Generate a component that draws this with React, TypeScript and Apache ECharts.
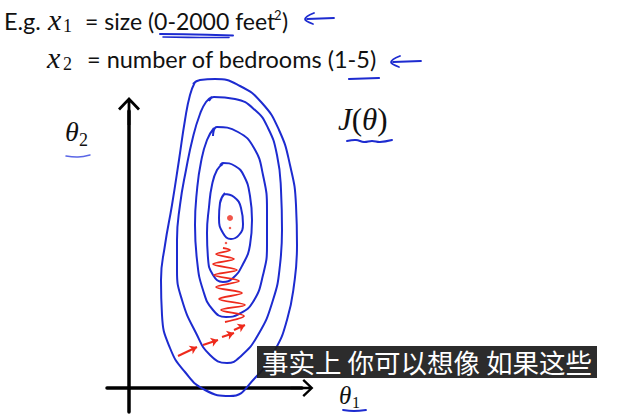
import React, { useEffect, useRef } from 'react';
import * as echarts from 'echarts';

// ---- data (theta1, theta2) ----
const contourOuter: [number, number][] = [
  [6.4, 30.4], [7.1, 30.8], [8.6, 30.9], [11.1, 30.2], [13.3, 28.5], [15.0, 25.8], [16.1, 22.3],
  [16.7, 18.3], [16.8, 14.3], [16.5, 10.3], [15.8, 6.8], [14.6, 3.8], [12.6, 1.0], [10.1, -0.8],
  [7.6, -0.2], [5.6, 1.6], [4.1, 4.0], [3.3, 7.3], [3.2, 10.8], [3.6, 14.3], [4.3, 18.3],
  [5.0, 22.8], [5.6, 26.8], [6.1, 29.3], [6.6, 30.6],
];
const contourSecond: [number, number][] = [
  [8.0, 28.7], [8.5, 29.1], [10.6, 28.9], [12.6, 27.8], [13.9, 26.0], [14.8, 23.3], [15.2, 19.8],
  [15.3, 15.8], [15.1, 12.3], [14.4, 8.8], [12.9, 5.3], [11.1, 3.1], [9.8, 2.5], [8.1, 3.3],
  [6.7, 5.5], [5.3, 8.8], [4.8, 11.8], [4.8, 14.8], [5.1, 18.3], [5.7, 21.8], [6.4, 25.1],
  [7.1, 27.4], [7.7, 28.6], [8.3, 29.1],
];
const contourThird: [number, number][] = [
  [8.4, 25.2], [8.8, 26.1], [10.9, 25.6], [12.5, 24.0], [13.4, 21.3], [13.8, 17.8], [13.8, 14.3],
  [13.4, 11.3], [12.4, 8.6], [11.0, 7.4], [9.7, 7.1], [8.4, 7.8], [7.4, 9.8], [6.8, 12.8],
  [6.6, 16.3], [6.8, 19.8], [7.2, 22.6], [7.8, 24.8], [8.5, 26.0],
];
const contourFourth: [number, number][] = [
  [9.1, 22.2], [9.4, 22.5], [10.6, 22.2], [11.5, 21.2], [12.1, 19.2], [12.3, 16.8], [12.1, 14.3],
  [11.4, 12.4], [10.4, 11.0], [9.4, 10.6], [8.4, 11.3], [7.9, 13.0], [7.8, 15.5], [8.0, 18.1],
  [8.3, 20.3], [8.8, 21.8], [9.4, 22.4],
];
const contourInner: [number, number][] = [
  [9.5, 19.4], [10.5, 19.1], [11.2, 18.0], [11.4, 16.4], [11.0, 15.3], [10.2, 14.9], [9.4, 15.5],
  [9.0, 17.0], [9.1, 18.5], [9.6, 19.5],
];
const descentSteps: [number, number][][] = [
  [[4.9, 3.2], [6.8, 4.1]],
  [[7.4, 4.3], [8.9, 4.8]],
  [[9.3, 5.1], [10.5, 5.5]],
  [[10.5, 5.8], [11.6, 6.3]],
];
const zigzagPath: [number, number][] = [
  [9.6, 6.6], [11.5, 7.2], [9.2, 7.8], [11.6, 8.3], [9.0, 8.9], [11.3, 9.5], [8.7, 10.1],
  [11.0, 10.7], [8.5, 11.3], [10.8, 11.8], [8.4, 12.4], [10.5, 12.9], [8.7, 13.4], [10.1, 13.8],
  [9.4, 14.0],
];
const minimumDots: [number, number, number][] = [
  [9.7, 14.5, 2.5], [10.1, 16.0, 2.5], [10.1, 17.0, 6],
];
const theta1Range = [-2.2, 17.3];
const theta2Range = [-2.4, 27.7];

const BLUE = '#1d2bd0';
const RED = '#ee2a1c';
const ARROW = 'path://M11,0 L22,11.5 L20,13.5 L11,4 L2,13.5 L0,11.5 Z M9.6,2 L12.4,2 L12.4,28 L9.6,28 Z';

function txt(x: number, y: number, text: string, size: number, family: string, extra: any = {}) {
  return {
    type: 'text',
    x,
    y,
    z: 50,
    style: {
      text,
      fontSize: size,
      fontFamily: family,
      fill: '#111',
      align: 'left',
      textAlign: 'left',
      verticalAlign: 'middle',
      textVerticalAlign: 'middle',
      ...extra,
    },
  };
}
function stroke(points: number[][], color = BLUE, width = 2) {
  return {
    type: 'polyline',
    z: 50,
    shape: { points, smooth: 0.4 },
    style: { stroke: color, lineWidth: width, fill: 'none', lineCap: 'round' },
  };
}

const SANS = 'Lato';
const SERIF = '"Liberation Serif"';

function buildOption() {
  const contour = (name: string, data: [number, number][]) => ({
    name,
    type: 'line',
    data,
    smooth: 0.5,
    symbol: 'none',
    clip: false,
    lineStyle: { color: BLUE, width: 2 },
    z: 3,
  });
  return {
    animation: false,
    backgroundColor: '#ffffff',
    grid: { left: 107, right: 317, top: 111, bottom: 7 },
    xAxis: {
      type: 'value',
      min: theta1Range[0],
      max: theta1Range[1],
      axisLine: {
        show: true,
        onZero: true,
        symbol: ['none', ARROW],
        symbolSize: [18, 30],
        lineStyle: { color: '#000', width: 3.5 },
      },
      axisTick: { show: false },
      axisLabel: { show: false },
      splitLine: { show: false },
    },
    yAxis: {
      type: 'value',
      min: theta2Range[0],
      max: theta2Range[1],
      axisLine: {
        show: true,
        onZero: true,
        symbol: ['none', ARROW],
        symbolSize: [22, 28],
        lineStyle: { color: '#000', width: 3.5 },
      },
      axisTick: { show: false },
      axisLabel: { show: false },
      splitLine: { show: false },
    },
    series: [
      contour('J = c1', contourOuter),
      contour('J = c2', contourSecond),
      contour('J = c3', contourThird),
      contour('J = c4', contourFourth),
      contour('J = c5', contourInner),
      {
        name: 'descent zigzag',
        type: 'line',
        data: zigzagPath,
        smooth: 0.35,
        symbol: 'none',
        clip: false,
        lineStyle: { color: RED, width: 1.8 },
        z: 4,
      },
      {
        name: 'descent steps',
        type: 'lines',
        coordinateSystem: 'cartesian2d',
        symbol: ['none', 'arrow'],
        symbolSize: 7,
        lineStyle: { color: RED, width: 2, opacity: 1, curveness: 0 },
        data: descentSteps.map((s) => ({ coords: s })),
        z: 4,
      },
      {
        name: 'minimum',
        type: 'scatter',
        data: minimumDots.map((d) => [d[0], d[1]]),
        symbolSize: (_v: any, p: any) => minimumDots[p.dataIndex][2],
        itemStyle: { color: RED },
        z: 5,
      },
    ],
    graphic: [
      // line 1
      txt(4, 21, 'E.g.', 23.5, SANS),
      txt(48, 19.5, 'x', 30, SERIF, { fontStyle: 'italic' }),
      txt(63, 26, '1', 18, SERIF),
      txt(85, 21, '= size (0-2000 feet', 23, SANS),
      txt(274, 14.5, '2', 13, SANS),
      txt(282, 21, ')', 23, SANS),
      // line 2
      txt(47, 57, 'x', 30, SERIF, { fontStyle: 'italic' }),
      txt(63, 64, '2', 18, SERIF),
      txt(87, 59, '= number of bedrooms (1-5)', 23.5, SANS),
      // axis labels
      txt(65, 131, 'θ', 28, SERIF, { fontStyle: 'italic' }),
      txt(79, 140, '2', 18, SERIF),
      txt(339, 395, 'θ', 25, SERIF, { fontStyle: 'italic' }),
      txt(352, 402, '1', 16, SERIF),
      {
        type: 'text',
        x: 338,
        y: 119,
        z: 50,
        style: {
          text: '{i|J}{r|(}{i|θ}{r|)}',
          fill: '#111',
          align: 'left',
          textAlign: 'left',
          verticalAlign: 'middle',
          textVerticalAlign: 'middle',
          rich: {
            i: { fontFamily: SERIF, fontStyle: 'italic', fontSize: 31, fill: '#111' },
            r: { fontFamily: SERIF, fontSize: 31, fill: '#111' },
          },
        },
      },
      // hand-drawn blue marks
      stroke([[160, 34], [195, 34.5], [233, 35.5]], BLUE, 2),
      stroke([[163, 37], [200, 37.5], [229, 37.5]], BLUE, 1.6),
      stroke([[349, 79], [379, 78]], BLUE, 2.2),
      stroke([[66, 156], [78, 157], [90, 155]], '#5a66e6', 1.5),
      stroke([[343, 410], [354, 411], [366, 410]], BLUE, 1.8),
      stroke([[347, 141], [356, 140], [364, 142], [372, 141], [380, 142], [392, 140]], BLUE, 2),
      stroke([[314, 13], [305, 19], [313, 24]], BLUE, 1.8),
      stroke([[307, 19], [334, 18]], BLUE, 1.8),
      stroke([[400, 56], [391, 62], [399, 67]], BLUE, 1.8),
      stroke([[393, 62], [421, 61]], BLUE, 1.8),
      // subtitle
      {
        type: 'rect',
        z: 100,
        shape: { x: 257, y: 346, width: 340, height: 32 },
        style: { fill: 'rgba(28,28,28,0.93)' },
      },
      {
        type: 'text',
        z: 101,
        x: 427,
        y: 361,
        style: {
          text: '事实上 你可以想像 如果这些',
          fontSize: 26.5,
          fontFamily: '"Noto Sans CJK SC"',
          fill: '#ffffff',
          align: 'center',
          textAlign: 'center',
          verticalAlign: 'middle',
          textVerticalAlign: 'middle',
        },
      },
    ],
  };
}

export default function App() {
  const ref = useRef<HTMLDivElement>(null);
  useEffect(() => {
    const chart = echarts.init(ref.current!, null, { renderer: 'svg' });
    chart.setOption(buildOption() as any);
    return () => chart.dispose();
  }, []);
  return (
    <div
      ref={ref}
      style={{ position: 'fixed', left: 0, top: 0, width: 619, height: 419, background: '#fff' }}
    />
  );
}
